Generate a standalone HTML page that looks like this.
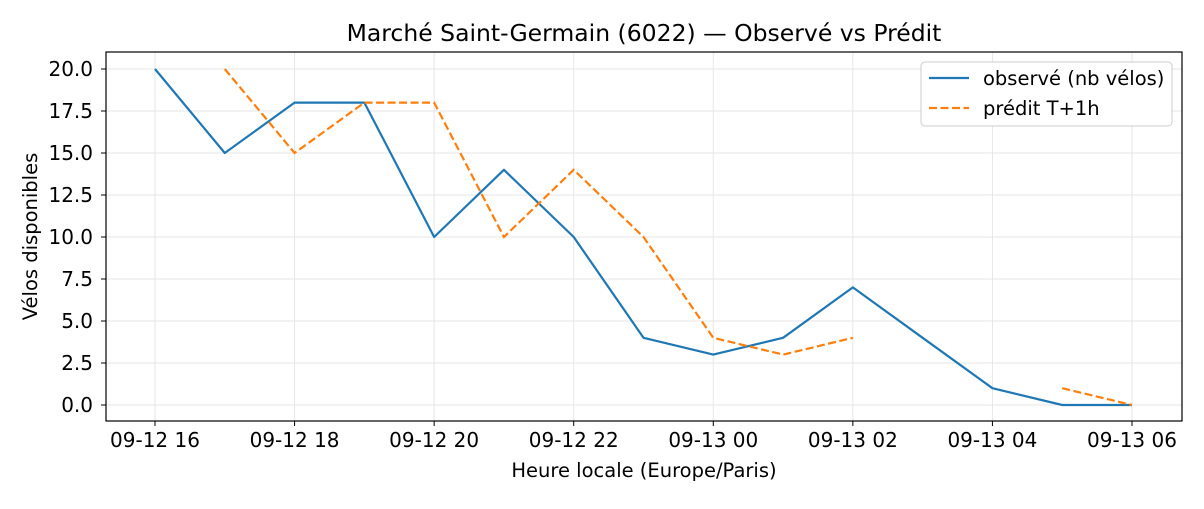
<!DOCTYPE html>
<html><head><meta charset="utf-8">
<style>
body{margin:0;background:#fff;font-family:"Liberation Sans","DejaVu Sans",sans-serif;}
svg text{font-family:"DejaVu Sans","Liberation Sans",sans-serif;fill:#000;}
</style></head>
<body>
<svg id="chart" width="1204" height="504" xmlns="http://www.w3.org/2000/svg"></svg>
<script>
const hours = [0,1,2,3,4,5,6,7,8,9,10,11,12,13,14];
const observed = [20,15,18,18,10,14,10,4,3,4,7,4,1,0,0];
const predicted = [null,20,15,18,18,10,14,10,4,3,4,null,null,1,0];
const xTickLabels = ["09-12 16","09-12 18","09-12 20","09-12 22","09-13 00","09-13 02","09-13 04","09-13 06"];
const xTickHours = [0,2,4,6,8,10,12,14];
const yTicks = [0,2.5,5,7.5,10,12.5,15,17.5,20];

const svg = document.getElementById('chart');
const NS = "http://www.w3.org/2000/svg";
const L=106,R=1182,T=52,B=421;
const x = h => 155 + h*(1132-155)/14;
const y = v => 405 - v*(405-69)/20;
function mk(tag, attrs, parent){const e=document.createElementNS(NS,tag);for(const k in attrs)e.setAttribute(k,attrs[k]);(parent||svg).appendChild(e);return e;}

xTickHours.forEach((h,i)=>{
  const g=mk('line',{x1:x(h),x2:x(h),y1:T,y2:B,stroke:'#e6e6e6','stroke-width':1});
  
  
  const t=mk('line',{x1:x(h),x2:x(h),y1:B,y2:B+5,stroke:'#000'});
  
  
  const tx=mk('text',{x:x(h),y:B+26,'text-anchor':'middle','font-size':20});
  tx.textContent=xTickLabels[i];
  
  
});
yTicks.forEach(v=>{
  const g=mk('line',{x1:L,x2:R,y1:y(v),y2:y(v),stroke:'#e6e6e6','stroke-width':1});
  
  
  const t=mk('line',{x1:L-5,x2:L,y1:y(v),y2:y(v),stroke:'#000'});
  
  
  const tx=mk('text',{x:L-13,y:y(v)+7,'text-anchor':'end','font-size':20});
  tx.textContent=v.toFixed(1);
  
  
});

function path(vals){
  let d='',pen=false;
  vals.forEach((v,i)=>{ if(v===null){pen=false;return;} d+=(pen?'L':'M')+x(hours[i])+','+y(v)+' '; pen=true;});
  return d;
}
const po=mk('path',{d:path(observed),fill:'none',stroke:'#1f77b4','stroke-width':2.2,'stroke-linejoin':'round'});


const pp=mk('path',{d:path(predicted),fill:'none',stroke:'#ff7f0e','stroke-width':2.2,'stroke-dasharray':'8,3.5'});



const frame=mk('rect',{x:L,y:T,width:R-L,height:B-T,fill:'none',stroke:'#000','stroke-width':1.2});



const title=mk('text',{x:(L+R)/2+0,y:41,'text-anchor':'middle','font-size':23.5});
title.textContent='Marché Saint-Germain (6022) — Observé vs Prédit';


const xt=mk('text',{x:(L+R)/2-0,y:477,'text-anchor':'middle','font-size':19.5});
xt.textContent='Heure locale (Europe/Paris)';


const yt=mk('text',{x:37,y:(T+B)/2,'text-anchor':'middle','font-size':19.5,transform:`rotate(-90 37 ${(T+B)/2})`});
yt.textContent='Vélos disponibles';



const lg=mk('g',{});


mk('rect',{x:921,y:62,width:251,height:64,rx:4,fill:'#fff',stroke:'#ccc'},lg);
const l1=mk('line',{x1:929,x2:969,y1:78,y2:78,stroke:'#1f77b4','stroke-width':2.2},lg);


const t1=mk('text',{x:983,y:85,'font-size':19.5},lg);t1.textContent='observé (nb vélos)';


const l2=mk('line',{x1:929,x2:969,y1:108,y2:108,stroke:'#ff7f0e','stroke-width':2.2,'stroke-dasharray':'8,3.5'},lg);


const t2=mk('text',{x:983,y:115,'font-size':19.5},lg);t2.textContent='prédit T+1h';


</script>
</body></html>
